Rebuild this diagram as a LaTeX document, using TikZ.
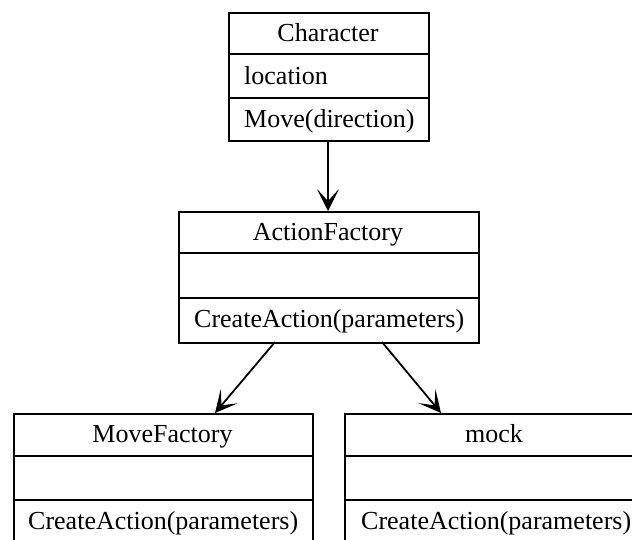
\documentclass[tikz,border=0pt]{standalone}
\usepackage{fontspec}
\setmainfont{Liberation Serif}
\usetikzlibrary{arrows.meta}

\begin{document}
\begin{tikzpicture}[x=1pt,y=-1pt,
  box/.style={draw=black,line width=1.8pt,fill=white},
  rowline/.style={draw=black,line width=1.6pt},
  lbl/.style={anchor=base,inner sep=0pt,font=\fontsize{26}{30}\selectfont},
  lbll/.style={lbl,anchor=base west},
  link/.style={draw=black,line width=1.8pt,
    -{Stealth[length=22pt,width=22pt,inset=12pt,line width=2pt]}}]
\useasboundingbox (0,0) rectangle (632,539);

% class Character
\node[box,minimum width=200pt,minimum height=128pt,inner sep=0pt,anchor=north west] (ch) at (228,12) {};
\draw[rowline] (228,54) -- (428,54) (228,98) -- (428,98);
\node[lbl] (chT) at (328,41) {Character};
\node[lbll] (chA) at (244,84) {location};
\node[lbll] (chM) at (244,127) {Move(direction)};

% class ActionFactory
\node[box,minimum width=300pt,minimum height=131pt,inner sep=0pt,anchor=north west] (af) at (178,211) {};
\draw[rowline] (178,253) -- (478,253) (178,298) -- (478,298);
\node[lbl] (afT) at (328,240) {ActionFactory};
\node[lbll] (afM) at (194,327) {CreateAction(parameters)};

% class MoveFactory
\node[box,minimum width=299pt,minimum height=131pt,inner sep=0pt,anchor=north west] (mf) at (13,413) {};
\draw[rowline] (13,456) -- (312,456) (13,500) -- (312,500);
\node[lbl] (mfT) at (162.5,442) {MoveFactory};
\node[lbll] (mfM) at (28,529) {CreateAction(parameters)};

% class mock
\node[box,minimum width=300pt,minimum height=131pt,inner sep=0pt,anchor=north west] (mk) at (344,413) {};
\draw[rowline] (344,456) -- (644,456) (344,500) -- (644,500);
\node[lbl] (mkT) at (494,442) {mock};
\node[lbll] (mkM) at (361,529) {CreateAction(parameters)};

% associations
\coordinate (chB) at (328,140);
\coordinate (afTop) at (328,211);
\coordinate (afBL) at (275,342);
\coordinate (afBR) at (382,342);
\coordinate (mfTop) at (215,413);
\coordinate (mkTop) at (441,413);
\draw[link] (chB) -- (afTop);
\draw[link] (afBL) -- (mfTop);
\draw[link] (afBR) -- (mkTop);
\end{tikzpicture}
\end{document}
